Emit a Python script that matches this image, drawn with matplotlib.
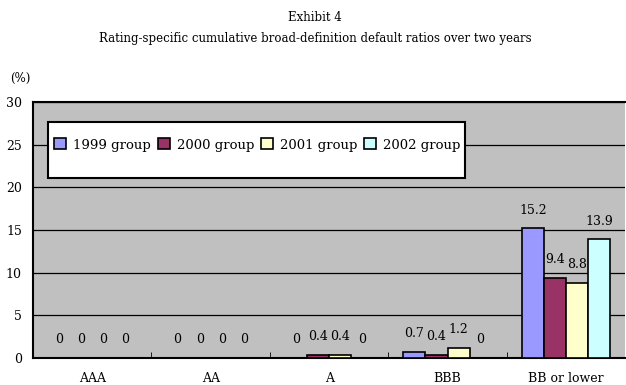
import numpy as np
import matplotlib.pyplot as plt
from matplotlib.patches import Rectangle

categories = ['AAA', 'AA', 'A', 'BBB', 'BB or lower']
groups = ['1999 group', '2000 group', '2001 group', '2002 group']
g1999 = [0, 0, 0, 0.7, 15.2]
g2000 = [0, 0, 0.4, 0.4, 9.4]
g2001 = [0, 0, 0.4, 1.2, 8.8]
g2002 = [0, 0, 0, 0, 13.9]
series = [g1999, g2000, g2001, g2002]
colors = ['#9999ff', '#993366', '#ffffcc', '#ccffff']

plt.rcParams['font.family'] = ['DejaVu Serif']
plt.rcParams['font.size'] = 9

fig = plt.figure(figsize=(6.26, 3.85), dpi=100)
ax = fig.add_axes([0.0527, 0.0701, 0.946, 0.665])
ax.set_facecolor('#c0c0c0')

x = np.arange(len(categories))
w = 0.186
for i, vals in enumerate(series):
    pos = x + (i - 1.5) * w
    ax.bar(pos, vals, w, color=colors[i], edgecolor='black',
           linewidth=1.2, label=groups[i], zorder=3)
    for xp, v in zip(pos, vals):
        ax.annotate(f'{v:g}', (xp, v), xytext=(0, 13), textcoords='offset points',
                    ha='center', va='center', fontsize=9, zorder=4)

ax.set_xlim(-0.5, len(categories) - 0.5)
ax.set_ylim(0, 30)
ax.set_yticks(range(0, 31, 5))
ax.yaxis.grid(True, color='black', linewidth=0.9, zorder=1)
ax.set_axisbelow(True)
ax.tick_params(axis='y', length=0, pad=8, labelsize=9)
ax.set_xticks(x)
ax.set_xticklabels(categories)
ax.tick_params(axis='x', length=0, pad=10)
ax.set_xticks(np.arange(0.5, len(categories) - 1, 1), minor=True)
ax.tick_params(axis='x', which='minor', direction='in', length=4, color='black')
for s in ['left', 'bottom', 'top']:
    ax.spines[s].set_linewidth(1.5)
ax.spines['right'].set_visible(False)

# legend box
ax.add_patch(Rectangle((0.025, 0.703), 0.704, 0.219, transform=ax.transAxes,
                       facecolor='white', edgecolor='black', linewidth=1.5, zorder=5))
leg = ax.legend(loc='center left', bbox_to_anchor=(0.027, 0.832), ncol=4, frameon=False,
                handlelength=0.9, handleheight=0.9, handletextpad=0.55, columnspacing=0.5,
                borderaxespad=0, fontsize=9.5)
leg.set_zorder(6)

fig.text(0.503, 0.955, 'Exhibit 4', ha='center', va='center', fontsize=8.5)
fig.text(0.503, 0.9, 'Rating-specific cumulative broad-definition default ratios over two years',
         ha='center', va='center', fontsize=8.5)
fig.text(0.032, 0.797, '(%)', ha='center', va='center', fontsize=8.5)

fig.savefig('out.png', dpi=100)
